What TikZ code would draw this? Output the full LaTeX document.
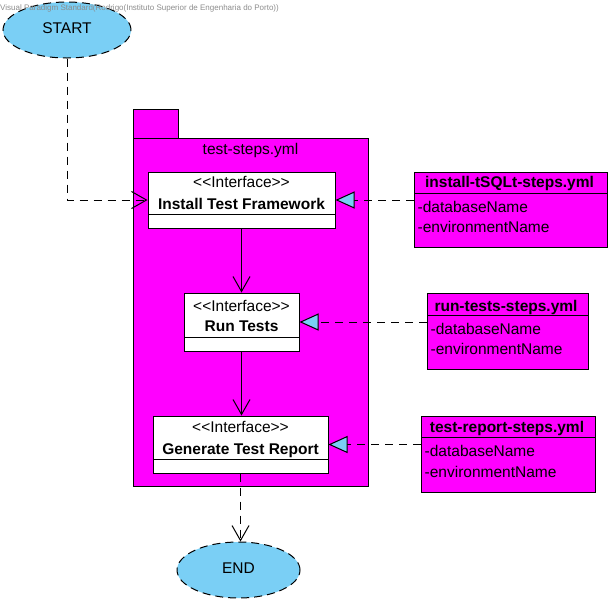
\documentclass[tikz,border=0pt]{standalone}
\usepackage{fontspec}
\setmainfont{Liberation Sans}
\usetikzlibrary{arrows.meta,shapes.geometric}
\definecolor{pkgmag}{HTML}{FF00FF}
\definecolor{ovalblue}{HTML}{7ACFF5}
\definecolor{wmgray}{HTML}{8C8C8C}
\newcommand\ifstereo{<\kern0pt<Interface>\kern0pt>}
\tikzset{
  txt/.style={font=\fontsize{15.5}{18}\selectfont, inner sep=0pt, anchor=base},
  btxt/.style={txt, font=\fontsize{15.5}{18}\selectfont\bfseries},
  attr/.style={txt, anchor=base west},
  terminal/.style={ellipse, draw, line width=1pt, dash pattern=on 8pt off 5pt, fill=ovalblue, inner sep=0pt},
  ifbox/.style={draw, fill=white, line width=1pt, inner sep=0pt},
  clsbox/.style={draw, fill=pkgmag, line width=1pt, inner sep=0pt},
  pkgbox/.style={draw, fill=pkgmag, line width=1pt},
  flow/.style={line width=1pt, -{Straight Barb[length=15pt,width=17pt]}},
  depend/.style={flow, dash pattern=on 8pt off 6pt},
  real/.style={line width=1pt, dash pattern=on 8pt off 6pt, -{Triangle[length=19pt,width=17pt,fill=ovalblue]}},
}
\begin{document}
\begin{tikzpicture}[x=1pt,y=-1pt]
\useasboundingbox (0,0) rectangle (612,606);

% package
\draw[pkgbox] (133,109) rectangle (178,138);
\draw[pkgbox] (133,138) rectangle (368,486);
\node[txt] (pkglbl) at (250.5,154) {test-steps.yml};

% interfaces
\node[ifbox, minimum width=187pt, minimum height=56pt] (ifw) at (241.5,200) {};
\draw[line width=1pt] (148,214) -- (335,214);
\node[txt] (ifwst) at (241.5,187) {\ifstereo};
\node[btxt] (ifwnm) at (241.5,209) {Install Test Framework};

\node[ifbox, minimum width=115pt, minimum height=58pt] (ifr) at (241.5,322) {};
\draw[line width=1pt] (184,337) -- (299,337);
\node[txt] (ifrst) at (241.5,311) {\ifstereo};
\node[btxt] (ifrnm) at (241.5,331) {Run Tests};

\node[ifbox, minimum width=175pt, minimum height=57pt] (ifg) at (240.5,444.5) {};
\draw[line width=1pt] (153,459) -- (328,459);
\node[txt] (ifgst) at (240.5,432) {\ifstereo};
\node[btxt] (ifgnm) at (240.5,454) {Generate Test Report};

% classes
\node[clsbox, minimum width=193pt, minimum height=75pt] (c1) at (510.5,209.5) {};
\draw[line width=1pt] (414,193) -- (607,193);
\node[btxt] (c1nm) at (509.5,187) {install-tSQLt-steps.yml};
\node[attr] (c1a) at (417.5,212) {-databaseName};
\node[attr] (c1b) at (417.5,232.5) {-environmentName};

\node[clsbox, minimum width=161pt, minimum height=76pt] (c2) at (507.5,331) {};
\draw[line width=1pt] (427,315) -- (588,315);
\node[btxt] (c2nm) at (506,311) {run-tests-steps.yml};
\node[attr] (c2a) at (430.5,334) {-databaseName};
\node[attr] (c2b) at (430.5,354.5) {-environmentName};

\node[clsbox, minimum width=174pt, minimum height=76pt] (c3) at (508,454) {};
\draw[line width=1pt] (421,437) -- (595,437);
\node[btxt] (c3nm) at (507,432) {test-report-steps.yml};
\node[attr] (c3a) at (424.5,456.5) {-databaseName};
\node[attr] (c3b) at (424.5,477.5) {-environmentName};

% terminals
\node[terminal, minimum width=128pt, minimum height=56pt] (start) at (67,30) {};
\node[txt] (startlbl) at (67,33) {START};
\node[terminal, minimum width=123pt, minimum height=56pt] (end) at (238.5,570) {};
\node[txt] (endlbl) at (238.5,573) {END};

% connectors
\draw[depend] (start.south) |- (ifw.west);
\draw[flow] (ifw.south) -- (ifr.north);
\draw[flow] (ifr.south) -- (ifr.south |- ifg.north);
\draw[depend] (ifg.south) -- (ifg.south |- end.north);
\draw[real] (c1.west |- ifw.east) -- (ifw.east);
\draw[real] (c2.west |- ifr.east) -- (ifr.east);
\draw[real] (c3.west |- ifg.east) -- (ifg.east);

% watermark
\node[font=\fontsize{8}{9}\selectfont, text=wmgray, anchor=base west, inner sep=0pt] (wm) at (0,10) {Visual Paradigm Standard(Rodrigo(Instituto Superior de Engenharia do Porto))};
\end{tikzpicture}
\end{document}
